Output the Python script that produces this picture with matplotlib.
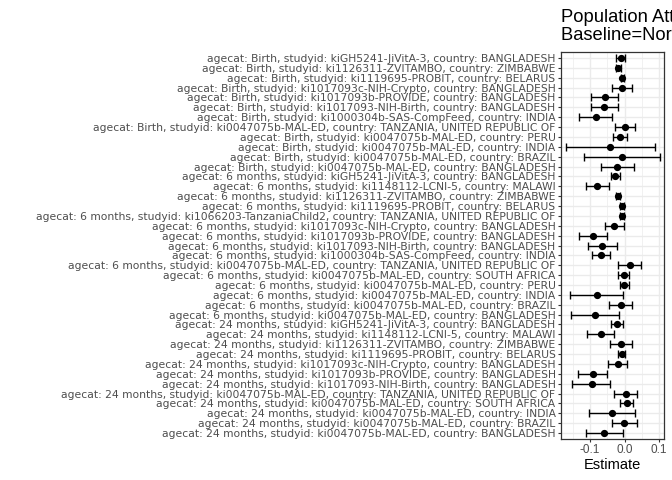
import matplotlib
matplotlib.use("Agg")
import matplotlib.pyplot as plt
from matplotlib.ticker import MultipleLocator

plt.rcParams['font.family'] = ['Liberation Sans', 'DejaVu Sans']

agecat = ["Birth"] * 12 + ["6 months"] * 15 + ["24 months"] * 12
studyid = [
    "kiGH5241-JiVitA-3", "ki1126311-ZVITAMBO", "ki1119695-PROBIT", "ki1017093c-NIH-Crypto",
    "ki1017093b-PROVIDE", "ki1017093-NIH-Birth", "ki1000304b-SAS-CompFeed", "ki0047075b-MAL-ED",
    "ki0047075b-MAL-ED", "ki0047075b-MAL-ED", "ki0047075b-MAL-ED", "ki0047075b-MAL-ED",
    "kiGH5241-JiVitA-3", "ki1148112-LCNI-5", "ki1126311-ZVITAMBO", "ki1119695-PROBIT",
    "ki1066203-TanzaniaChild2", "ki1017093c-NIH-Crypto", "ki1017093b-PROVIDE", "ki1017093-NIH-Birth",
    "ki1000304b-SAS-CompFeed", "ki0047075b-MAL-ED", "ki0047075b-MAL-ED", "ki0047075b-MAL-ED",
    "ki0047075b-MAL-ED", "ki0047075b-MAL-ED", "ki0047075b-MAL-ED",
    "kiGH5241-JiVitA-3", "ki1148112-LCNI-5", "ki1126311-ZVITAMBO", "ki1119695-PROBIT",
    "ki1017093c-NIH-Crypto", "ki1017093b-PROVIDE", "ki1017093-NIH-Birth", "ki0047075b-MAL-ED",
    "ki0047075b-MAL-ED", "ki0047075b-MAL-ED", "ki0047075b-MAL-ED", "ki0047075b-MAL-ED",
]
country = [
    "BANGLADESH", "ZIMBABWE", "BELARUS", "BANGLADESH", "BANGLADESH", "BANGLADESH", "INDIA",
    "TANZANIA, UNITED REPUBLIC OF", "PERU", "INDIA", "BRAZIL", "BANGLADESH",
    "BANGLADESH", "MALAWI", "ZIMBABWE", "BELARUS", "TANZANIA, UNITED REPUBLIC OF", "BANGLADESH",
    "BANGLADESH", "BANGLADESH", "INDIA", "TANZANIA, UNITED REPUBLIC OF", "SOUTH AFRICA", "PERU",
    "INDIA", "BRAZIL", "BANGLADESH",
    "BANGLADESH", "MALAWI", "ZIMBABWE", "BELARUS", "BANGLADESH", "BANGLADESH", "BANGLADESH",
    "TANZANIA, UNITED REPUBLIC OF", "SOUTH AFRICA", "INDIA", "BRAZIL", "BANGLADESH",
]
estimate = [
    -0.011, -0.018, -0.007, -0.008, -0.058, -0.059, -0.084, 0.002, -0.014, -0.043, -0.009, -0.021,
    -0.027, -0.079, -0.019, -0.007, -0.007, -0.030, -0.091, -0.065, -0.069, 0.015, -0.003, -0.001,
    -0.081, -0.012, -0.086,
    -0.022, -0.070, -0.011, -0.009, -0.020, -0.093, -0.096, 0.003, 0.006, -0.037, -0.001, -0.059,
]
ci_lower = [
    -0.024, -0.024, -0.012, -0.037, -0.097, -0.097, -0.131, -0.027, -0.033, -0.171, -0.119, -0.069,
    -0.041, -0.112, -0.026, -0.013, -0.013, -0.058, -0.132, -0.107, -0.095, -0.019, -0.018, -0.014,
    -0.159, -0.046, -0.155,
    -0.040, -0.109, -0.043, -0.019, -0.048, -0.134, -0.152, -0.032, -0.013, -0.102, -0.038, -0.111,
]
ci_upper = [
    0.002, -0.011, -0.001, 0.021, -0.019, -0.020, -0.037, 0.030, 0.006, 0.087, 0.102, 0.027,
    -0.013, -0.046, -0.013, -0.001, -0.001, -0.001, -0.050, -0.022, -0.043, 0.048, 0.012, 0.012,
    -0.004, 0.022, -0.017,
    -0.005, -0.031, 0.020, 0.001, 0.008, -0.051, -0.042, 0.037, 0.024, 0.030, 0.037, -0.006,
]
title = "Population Attributable Difference\nBaseline=Normal weight"
xlabel = "Estimate"

labels = [f"agecat: {a}, studyid: {s}, country: {c}" for a, s, c in zip(agecat, studyid, country)]
n = len(labels)
ypos = list(range(n, 0, -1))

fig = plt.figure(figsize=(6.72, 4.8), dpi=100)
ax = fig.add_axes([561 / 672, 1 - 439 / 480, 103 / 672, 387 / 480])

err_lo = [e - l for e, l in zip(estimate, ci_lower)]
err_hi = [u - e for e, u in zip(estimate, ci_upper)]
ax.errorbar(estimate, ypos, xerr=[err_lo, err_hi], fmt='o', color='black',
            ecolor='black', elinewidth=1.0, capsize=2.6, capthick=1.0,
            markersize=4.2, zorder=3)

ax.set_xlim(-0.1846, 0.114)
ax.set_ylim(0.4, n + 0.6)
ax.xaxis.set_minor_locator(MultipleLocator(0.05))
ax.set_xticks([-0.1, 0.0, 0.1])
ax.set_xticklabels(["-0.1", "0.0", "0.1"])
ax.set_yticks(ypos)
ax.set_yticklabels(labels)

ax.grid(which='major', color='#EBEBEB', linewidth=1.0)
ax.grid(which='minor', axis='x', color='#EBEBEB', linewidth=0.5)
ax.set_axisbelow(True)

for s in ax.spines.values():
    s.set_color('#333333')
    s.set_linewidth(0.9)

ax.tick_params(axis='both', which='major', length=2.4, width=0.8, color='#333333',
               labelcolor='#4D4D4D', labelsize=8.5, pad=1.5)
ax.tick_params(axis='both', which='minor', length=0)
for t in ax.get_yticklabels():
    t.set_fontfamily(['DejaVu Sans'])
    t.set_fontsize(7.75)

ax.set_xlabel(xlabel, fontsize=10.5, color='black', labelpad=1)
ax.set_title(title, fontsize=13.2, loc='left', color='black', pad=9, linespacing=1.0)

fig.savefig("out.png", dpi=100)
